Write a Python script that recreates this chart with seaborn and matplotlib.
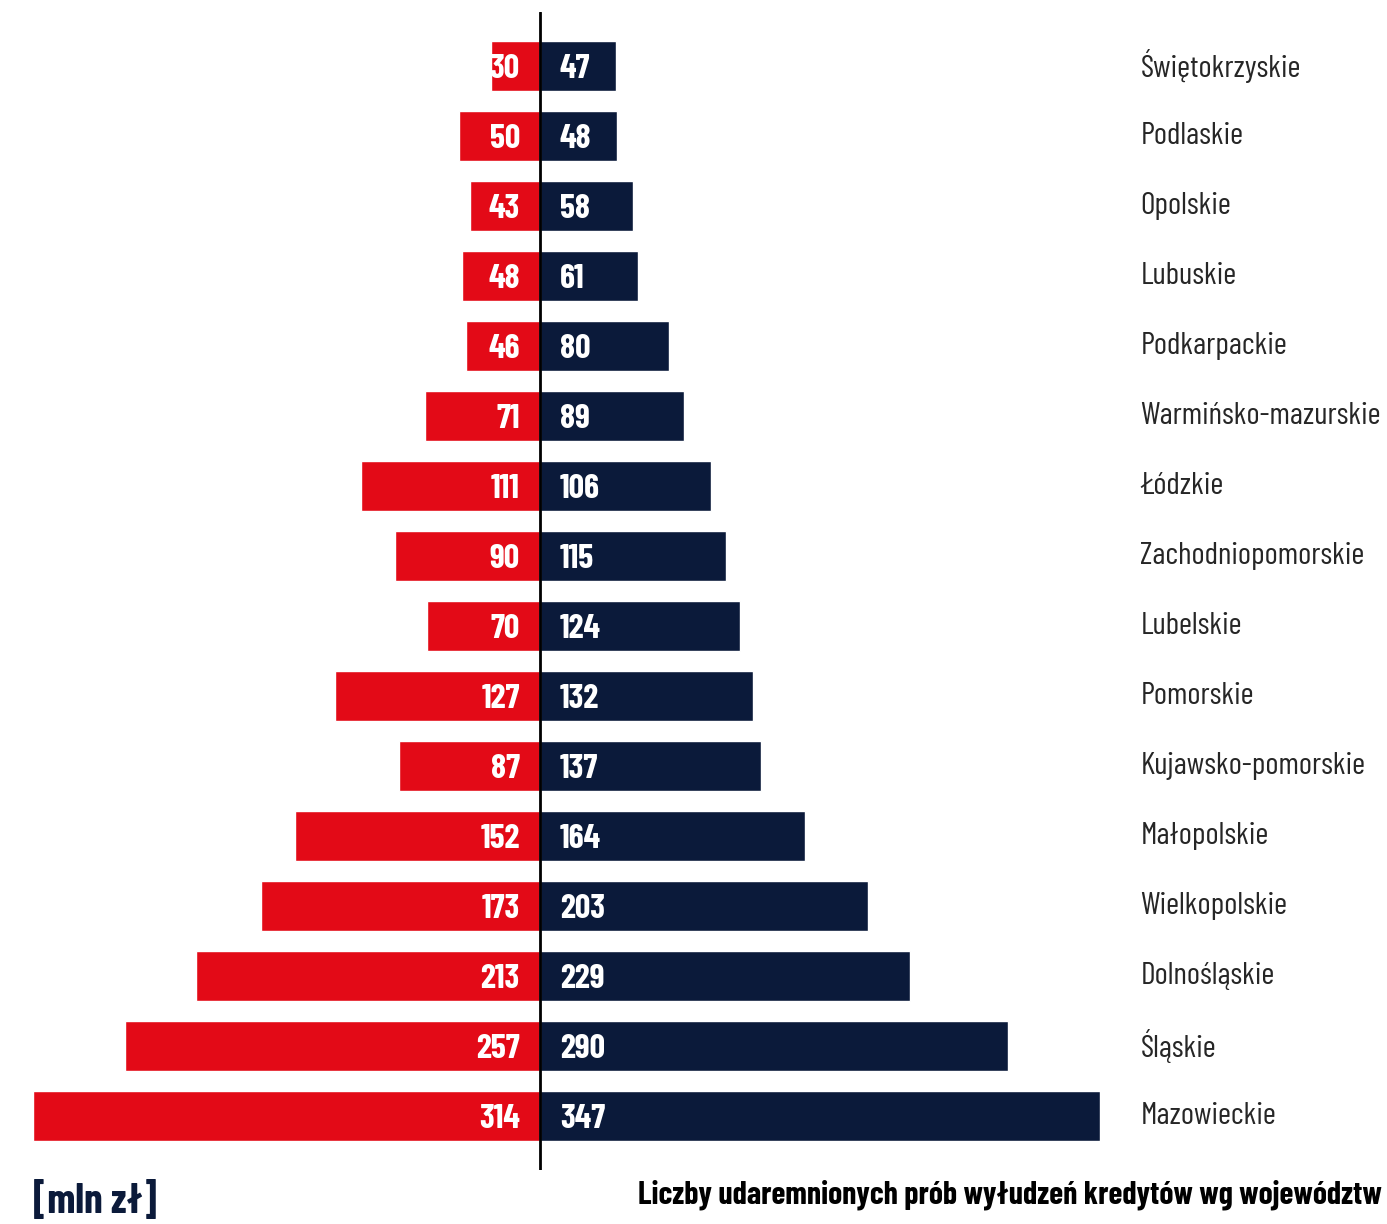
import pandas as pd
import seaborn as sns
import matplotlib.pyplot as plt
from matplotlib.transforms import offset_copy

# Dane (mln zł), od góry do dołu
regions = ["Świętokrzyskie", "Podlaskie", "Opolskie", "Lubuskie", "Podkarpackie",
           "Warmińsko-mazurskie", "Łódzkie", "Zachodniopomorskie", "Lubelskie",
           "Pomorskie", "Kujawsko-pomorskie", "Małopolskie", "Wielkopolskie",
           "Dolnośląskie", "Śląskie", "Mazowieckie"]
red_vals = [30, 50, 43, 48, 46, 71, 111, 90, 70, 127, 87, 152, 173, 213, 257, 314]
navy_vals = [47, 48, 58, 61, 80, 89, 106, 115, 124, 132, 137, 164, 203, 229, 290, 347]

RED = "#E30A17"
NAVY = "#0B1A3A"

df = pd.DataFrame({"region": regions, "red": red_vals, "navy": navy_vals})
df["red_neg"] = -df["red"]

sns.set_style("white")
plt.rcParams["font.family"] = ["Barlow Condensed", "DejaVu Sans"]

W, H = 1387, 1224
fig = plt.figure(figsize=(W / 100, H / 100), dpi=100)
ax = fig.add_axes([33 / W, 54 / H, (1100 - 33) / W, (1170 - 12) / H])

sns.barplot(data=df, x="red_neg", y="region", color=RED, width=0.714,
            saturation=1, ax=ax)
sns.barplot(data=df, x="navy", y="region", color=NAVY, width=0.714,
            saturation=1, ax=ax)

ax.set_xlim(-314, 347)
ax.set_ylim(len(regions) - 1 + 0.771, -0.771)
ax.axvline(0, color="black", lw=2)

for i, (r, n) in enumerate(zip(red_vals, navy_vals)):
    ax.text(-12.4, i + 0.04, str(r), ha="right", va="center", color="white",
            fontsize=24.5, fontweight="bold")
    ax.text(12.4, i + 0.04, str(n), ha="left", va="center", color="white",
            fontsize=24.5, fontweight="bold")

ax.yaxis.tick_right()
ax.tick_params(axis="y", length=0, pad=29, labelsize=22.7)
for lab in ax.get_yticklabels():
    lab.set_fontweight("normal")
    lab.set_transform(offset_copy(lab.get_transform(), fig=fig, y=3, units="dots"))
ax.set_xticks([])
ax.set_xlabel("")
ax.set_ylabel("")
for s in ax.spines.values():
    s.set_visible(False)

fig.text(33 / W, 1 - 1201 / H, "[mln zł]", color=NAVY, fontsize=30,
         fontweight="bold", ha="left", va="center")
fig.text(1382 / W, 1 - 1195 / H, "Liczby udaremnionych prób wyłudzeń kredytów wg województw",
         color="black", fontsize=22.9, fontweight="bold", ha="right", va="center")

plt.savefig("out.png", dpi=100)
